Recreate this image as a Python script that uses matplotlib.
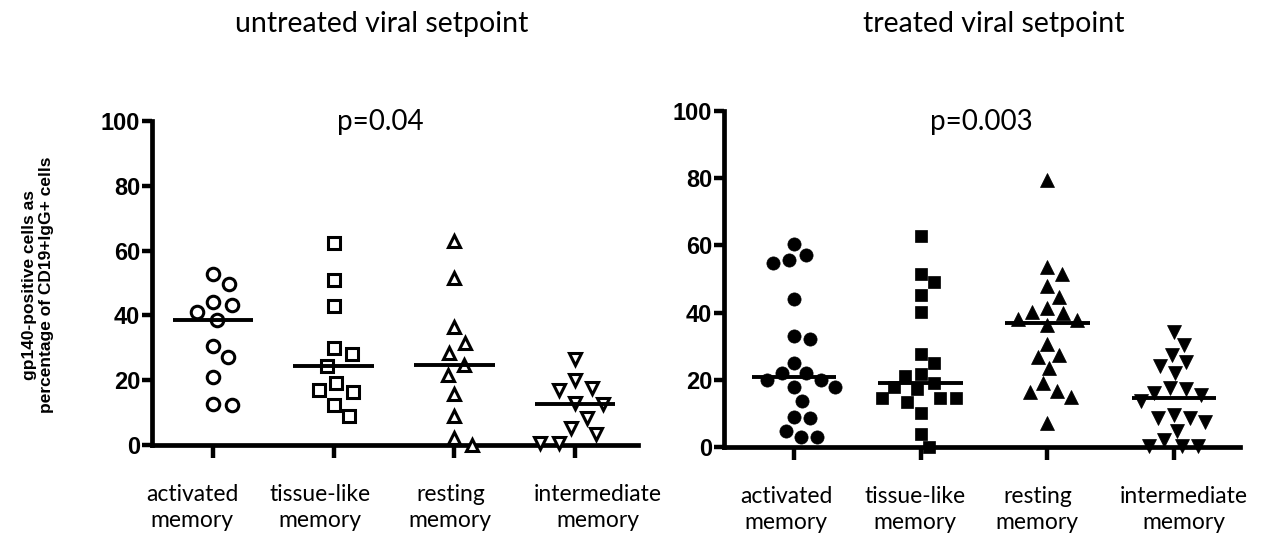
import numpy as np
import matplotlib
matplotlib.use("Agg")
import matplotlib.pyplot as plt
from matplotlib.transforms import ScaledTranslation

# ---------------- data ----------------
categories = ["activated\nmemory", "tissue-like\nmemory", "resting\nmemory", "intermediate\nmemory"]
yticks = [0, 20, 40, 60, 80, 100]

untreated_activated = [44.2, 49.8, 52.8, 41.0, 43.1, 38.5, 30.5, 27.1, 20.9, 12.5, 12.8]
untreated_tissue = [62.3, 51.0, 42.9, 29.8, 28.2, 24.3, 17.1, 19.2, 16.3, 12.2, 8.9]
untreated_resting = [63.0, 51.5, 36.3, 31.5, 28.4, 24.8, 21.7, 15.6, 9.1, 2.3, 0.0]
untreated_intermediate = [26.4, 20.2, 16.9, 17.6, 12.8, 13.0, 8.4, 5.3, 3.3, 0.7, 0.7]

treated_activated = [60.3, 55.8, 54.9, 57.1, 44.0, 33.0, 32.1, 25.0, 22.0, 22.0,
                     19.9, 19.9, 17.9, 17.9, 13.7, 8.9, 8.6, 4.8, 3.0, 3.0]
treated_tissue = [62.9, 51.4, 49.0, 45.2, 40.3, 27.6, 25.0, 21.2, 21.8, 19.0,
                  17.8, 17.2, 14.6, 13.3, 14.6, 14.6, 10.1, 4.0, 0.0]
treated_resting = [79.6, 53.7, 51.5, 47.9, 44.7, 41.4, 39.9, 40.3, 37.8, 38.0,
                   36.2, 30.7, 27.4, 26.9, 23.5, 19.1, 16.4, 14.9, 16.7, 7.2]
treated_intermediate = [34.1, 30.4, 27.4, 25.4, 24.0, 22.0, 17.5, 16.2, 13.6, 15.5,
                        17.2, 9.6, 8.6, 7.4, 8.6, 4.9, 0.4, 0.4, 0.4, 2.0]

titles = ["untreated viral setpoint", "treated viral setpoint"]
pvalues = ["p=0.04", "p=0.003"]
ylabel = "gp140-positive cells as\npercentage of CD19+IgG+ cells"

# ---------------- layout ----------------
W, H = 1276, 540
fig = plt.figure(figsize=(W / 100, H / 100), dpi=100)

TXT = "Lato"
NUM = "Liberation Sans"


def swarm(vals, ppu_y, d):
    """Greedy beeswarm offsets (pixels) for values."""
    y = np.asarray(vals, float) * ppu_y
    order = np.argsort(-y, kind="stable")
    xs = np.zeros(len(y))
    placed = []
    for i in order:
        cands = [0.0]
        for j in placed:
            dy = y[i] - y[j]
            if abs(dy) < d:
                dx = np.sqrt(d * d - dy * dy)
                cands += [xs[j] - dx, xs[j] + dx]
        cands = sorted(cands, key=lambda c: (round(abs(c), 6), -c))
        for c in cands:
            if all((c - xs[j]) ** 2 + (y[i] - y[j]) ** 2 >= d * d - 1e-6 for j in placed):
                xs[i] = c
                break
        placed.append(i)
    return xs


def make_panel(px_left, px_right, px_top, px_bot, tick0, tick3, groups, markers,
               filled, msizes, dswarm, label_dx):
    ax = fig.add_axes([px_left / W, (H - px_bot) / H, (px_right - px_left) / W, (px_bot - px_top) / H])
    sp = (tick3 - tick0) / 3.0
    ax.set_xlim((px_left - tick0) / sp, 3 + (px_right - tick3) / sp)
    ax.set_ylim(0, 100)
    ppu_x = sp
    ppu_y = (px_bot - px_top) / 100.0
    for i, (vals, mk, ms) in enumerate(zip(groups, markers, msizes)):
        off = swarm(vals, ppu_y, dswarm) / ppu_x
        xs = i + off
        if filled:
            ax.plot(xs, vals, linestyle="none", marker=mk, ms=ms, mfc="black",
                    mec="black", mew=0.5, clip_on=False, zorder=3)
        else:
            ax.plot(xs, vals, linestyle="none", marker=mk, ms=ms, mfc="white",
                    mec="black", mew=2.2, clip_on=False, zorder=3)
        med = np.median(vals)
        ax.hlines(med, i - 0.335, i + 0.335, colors="black", lw=2.8, zorder=4)
    for s in ["top", "right"]:
        ax.spines[s].set_visible(False)
    for s in ["left", "bottom"]:
        ax.spines[s].set_linewidth(3.4)
        ax.spines[s].set_capstyle("projecting")
    ax.set_yticks(yticks)
    ax.set_yticklabels([str(v) for v in yticks], fontfamily=NUM, fontweight="bold", fontsize=17)
    ax.set_xticks(range(len(categories)))
    ax.set_xticklabels(categories, fontfamily=TXT, fontsize=16.5, linespacing=1.3)
    ax.tick_params(axis="y", direction="out", length=7.5, width=3.2, pad=1.0)
    ax.tick_params(axis="x", direction="out", length=9, width=3.2, pad=19)
    for lab, dx in zip(ax.get_xticklabels(), label_dx):
        lab.set_transform(lab.get_transform() + ScaledTranslation(dx / 100, 0, fig.dpi_scale_trans))
    ax.patch.set_alpha(0)
    return ax


ax1 = make_panel(152, 638, 121, 445, 213, 575,
                 [untreated_activated, untreated_tissue, untreated_resting, untreated_intermediate],
                 ["o", "s", "^", "v"], False, [9.0, 8.0, 9.0, 9.0], 19.0,
                 [-21, -14, -4, 23])
ax2 = make_panel(724, 1240, 111, 447, 794, 1174,
                 [treated_activated, treated_tissue, treated_resting, treated_intermediate],
                 ["o", "s", "^", "v"], True, [9.5, 9.3, 10.0, 10.0], 16.0,
                 [-8, -6, -10, 10])

# titles and p-values
fig.text(382 / W, 1 - 24 / H, titles[0], ha="center", va="center", fontfamily=TXT, fontsize=20.5)
fig.text(994 / W, 1 - 24 / H, titles[1], ha="center", va="center", fontfamily=TXT, fontsize=20.5)
fig.text(380 / W, 1 - 122 / H, pvalues[0], ha="center", va="center", fontfamily=TXT, fontsize=20)
fig.text(981 / W, 1 - 122 / H, pvalues[1], ha="center", va="center", fontfamily=TXT, fontsize=20)

# y label
fig.text(38 / W, 1 - 285 / H, ylabel, rotation=90, ha="center", va="center",
         multialignment="center", fontfamily=NUM, fontweight="bold", fontsize=12.5, linespacing=1.15)

fig.savefig("out.png", dpi=100, facecolor="white")
